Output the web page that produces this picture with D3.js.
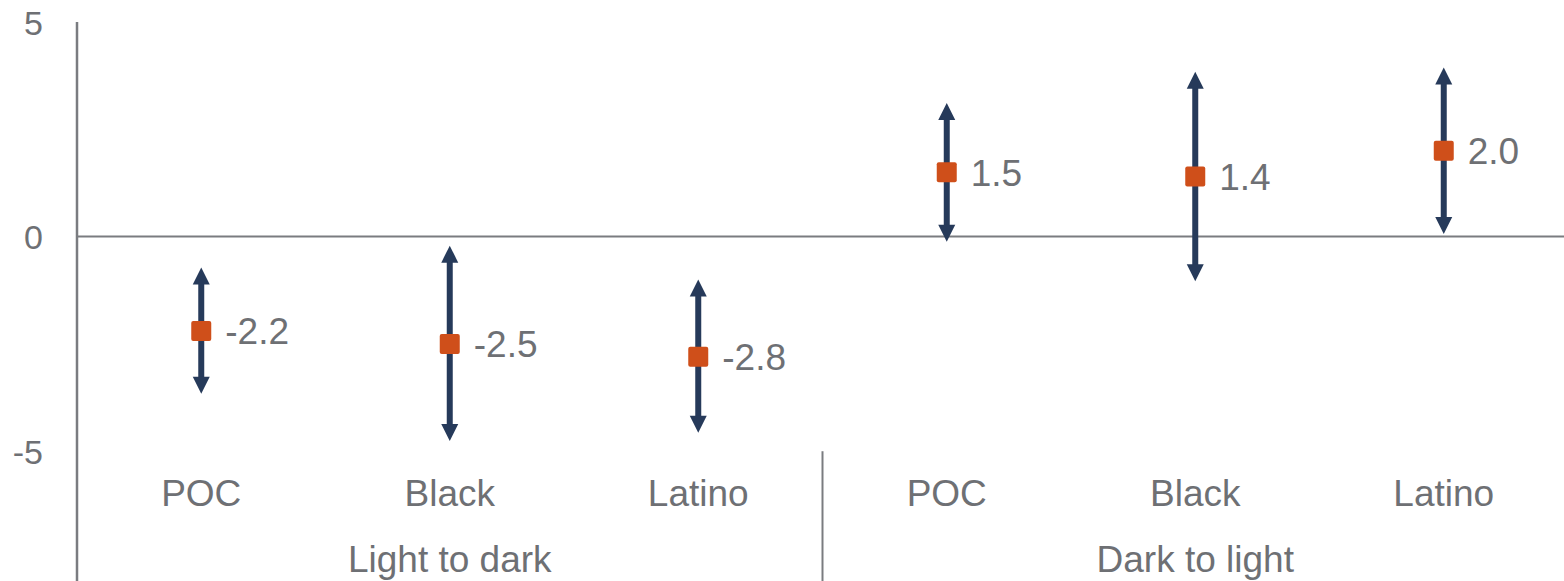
<!DOCTYPE html>
<html>
<head>
<meta charset="utf-8">
<script src="https://cdn.jsdelivr.net/npm/d3@7"></script>
<style>
  html, body { margin: 0; padding: 0; background: #fff; }
  svg { display: block; font-family: "Liberation Sans", Arial, sans-serif; }
</style>
</head>
<body>
<svg id="chart" width="1564" height="581"></svg>
<script>
// Effect estimates with interval ends, grouped by direction of change
const groups = ["Light to dark", "Dark to light"];
const categories = ["POC", "Black", "Latino", "POC", "Black", "Latino"];
const groupOf = [0, 0, 0, 1, 1, 1];
const estimates = [-2.2, -2.5, -2.8, 1.5, 1.4, 2.0];
const upper = [-0.72, -0.21, -1.0, 3.11, 3.84, 3.94];
const lower = [-3.66, -4.76, -4.57, -0.12, -1.04, 0.06];
const yTicks = [5, 0, -5];

const svg = d3.select("#chart");
const W = 1564, H = 581;
const plotLeft = 77, plotRight = 1568, plotTop = 22;

const y = d3.scaleLinear().domain([-8, 5]).range([580, plotTop]);
const x = d3.scaleBand().domain(d3.range(categories.length)).range([plotLeft, plotRight]).padding(0);
const cx = i => x(i) + x.bandwidth() / 2;

const navy = "#263a5a";
const orange = "#cf4f1a";
const grey = "#6e7074";
const axisGrey = "#7a7c80";

// value axis labels
const yAxis = d3.axisLeft(y).tickValues(yTicks).tickSize(0).tickPadding(0);
const gy = svg.append("g").attr("transform", `translate(${plotLeft},0)`).call(yAxis);
gy.select(".domain").remove();
gy.selectAll("text")
  .attr("x", -34)
  .attr("dy", "0.36em")
  .attr("fill", grey)
  .style("font-size", "34px")
  .style("font-family", "Liberation Sans, Arial, sans-serif")
  .text(d => d < 0 ? "-" + Math.abs(d) : String(d));

// vertical axis line
svg.append("line")
  .attr("x1", plotLeft).attr("x2", plotLeft)
  .attr("y1", plotTop).attr("y2", H)
  .attr("stroke", axisGrey).attr("stroke-width", 2.5);

// zero line
svg.append("line")
  .attr("x1", plotLeft).attr("x2", W)
  .attr("y1", y(0)).attr("y2", y(0))
  .attr("stroke", axisGrey).attr("stroke-width", 2);

// divider between the two groups
const divX = x(3);
svg.append("line")
  .attr("x1", divX).attr("x2", divX)
  .attr("y1", y(-5)).attr("y2", H)
  .attr("stroke", axisGrey).attr("stroke-width", 2);

// interval bars: shaft plus a triangular head at each end
const idx = d3.range(categories.length);
const head = 17, halfW = 8.5;
const bars = svg.append("g");
bars.selectAll("line")
  .data(idx)
  .join("line")
  .attr("x1", cx).attr("x2", cx)
  .attr("y1", i => y(lower[i]) - head + 2)
  .attr("y2", i => y(upper[i]) + head - 2)
  .attr("stroke", navy)
  .attr("stroke-width", 6);

bars.selectAll("path.up")
  .data(idx)
  .join("path")
  .attr("class", "up")
  .attr("fill", navy)
  .attr("d", i => {
    const px = cx(i), py = y(upper[i]);
    return `M${px},${py} L${px + halfW},${py + head} L${px - halfW},${py + head} Z`;
  });

bars.selectAll("path.down")
  .data(idx)
  .join("path")
  .attr("class", "down")
  .attr("fill", navy)
  .attr("d", i => {
    const px = cx(i), py = y(lower[i]);
    return `M${px},${py} L${px + halfW},${py - head} L${px - halfW},${py - head} Z`;
  });

// point estimates
const s = 20;
svg.append("g").selectAll("rect")
  .data(idx)
  .join("rect")
  .attr("x", i => cx(i) - s / 2)
  .attr("y", i => y(estimates[i]) - s / 2)
  .attr("width", s).attr("height", s)
  .attr("rx", 2)
  .attr("fill", orange);

// value labels
svg.append("g").selectAll("text")
  .data(idx)
  .join("text")
  .attr("x", i => cx(i) + 24)
  .attr("y", i => y(estimates[i]))
  .attr("dy", "0.36em")
  .attr("fill", grey)
  .style("font-size", "37px")
  .text(i => d3.format(".1f")(estimates[i]).replace("−", "-"));

// category labels
svg.append("g").selectAll("text")
  .data(idx)
  .join("text")
  .attr("x", cx)
  .attr("y", 506)
  .attr("text-anchor", "middle")
  .attr("fill", grey)
  .style("font-size", "37px")
  .text(i => categories[i]);

// group labels
svg.append("g").selectAll("text")
  .data(groups)
  .join("text")
  .attr("x", (g, gi) => {
    const members = idx.filter(i => groupOf[i] === gi);
    return (x(members[0]) + x(members[members.length - 1]) + x.bandwidth()) / 2;
  })
  .attr("y", 572)
  .attr("text-anchor", "middle")
  .attr("fill", grey)
  .style("font-size", "37px")
  .text(g => g);
</script>
</body>
</html>
